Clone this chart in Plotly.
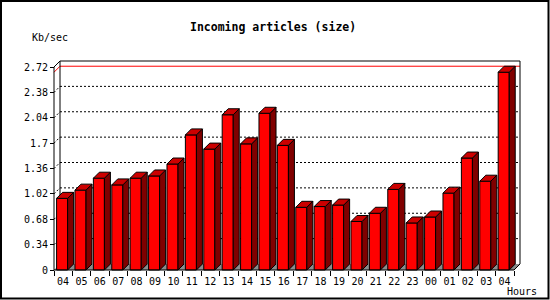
import plotly.graph_objects as go

# ---------------- data ----------------
hours = ["04", "05", "06", "07", "08", "09", "10", "11", "12", "13", "14", "15", "16",
         "17", "18", "19", "20", "21", "22", "23", "00", "01", "02", "03", "04"]
kb_per_sec = [0.96, 1.07, 1.23, 1.14, 1.23, 1.26, 1.42, 1.81, 1.62, 2.08, 1.69, 2.10, 1.67,
              0.84, 0.85, 0.87, 0.65, 0.76, 1.08, 0.63, 0.71, 1.03, 1.50, 1.19, 2.65]
y_ticks = [0, 0.34, 0.68, 1.02, 1.36, 1.70, 2.04, 2.38, 2.72]
y_tick_text = ["0", "0.34", "0.68", "1.02", "1.36", "1.7", "2.04", "2.38", "2.72"]
title_text = "Incoming articles (size)"
y_unit = "Kb/sec"
x_unit = "Hours"

# ---------------- geometry ----------------
W, H = 550, 300
ml, mr, mt, mb = 52, 28, 59, 28
pw, ph = W - ml - mr, H - mt - mb
n = len(hours)
ymax = y_ticks[-1]
sx = (pw - 10) / n            # px per category
sy = (ph - 10) / ymax         # px per unit
dx = 6 / sx                   # depth in data units
dy = 6 / sy
xr = [-0.5 - 2 / sx, n - 0.5 + 8 / sx]
yr = [-2 / sy, ymax + 8 / sy]

def px_x(p):
    return (p - ml) / pw

def px_y(p):
    return (H - mb - p) / ph

RED, TOP, SIDE, FLOOR = "#ff0000", "#cc0000", "#800000", "#8c8c8c"

fig = go.Figure()

# front faces
fig.add_trace(go.Bar(
    x=list(range(n)), y=kb_per_sec, width=0.6, offset=-0.36,
    marker=dict(color=RED, line=dict(color="black", width=1)),
    hoverinfo="skip", showlegend=False))

# side & top faces
sx_list, sy_list, tx_list, ty_list = [], [], [], []
for i, v in enumerate(kb_per_sec):
    x0, x1 = i - 0.36, i + 0.24
    sx_list += [x1, x1 + dx, x1 + dx, x1, x1, None]
    sy_list += [0, dy, v + dy, v, 0, None]
    tx_list += [x0, x1, x1 + dx, x0 + dx, x0, None]
    ty_list += [v, v, v + dy, v + dy, v, None]
fig.add_trace(go.Scatter(x=sx_list, y=sy_list, mode="lines", fill="toself",
                         fillcolor=SIDE, line=dict(color="black", width=1),
                         hoverinfo="skip", showlegend=False))
fig.add_trace(go.Scatter(x=tx_list, y=ty_list, mode="lines", fill="toself",
                         fillcolor=TOP, line=dict(color="black", width=1),
                         hoverinfo="skip", showlegend=False))

shapes = []
L, R = -0.5, n - 0.5
# floor
shapes.append(dict(type="path", xref="x", yref="y", layer="below",
                   path=f"M{L},0 L{R},0 L{R+dx},{dy} L{L+dx},{dy} Z",
                   fillcolor=FLOOR, line=dict(width=0)))
# dotted grid on back wall + left wall
for t in y_ticks[1:-1]:
    shapes.append(dict(type="line", xref="x", yref="y", layer="below",
                       x0=L + dx, x1=R + dx, y0=t + dy, y1=t + dy,
                       line=dict(color="black", width=1, dash="2px,2px")))
    shapes.append(dict(type="line", xref="x", yref="y", layer="below",
                       x0=L, x1=L + dx, y0=t, y1=t + dy,
                       line=dict(color="black", width=1, dash="2px,2px")))
# max line
m = max(kb_per_sec)
shapes.append(dict(type="line", xref="x", yref="y", layer="below",
                   x0=L + dx, x1=R + dx, y0=m + dy, y1=m + dy,
                   line=dict(color="red", width=1)))
shapes.append(dict(type="line", xref="x", yref="y", layer="below",
                   x0=L, x1=L + dx, y0=m, y1=m + dy,
                   line=dict(color="red", width=1)))
# back wall frame
frame = [
    (L + dx, dy, L + dx, ymax + dy),
    (L + dx, ymax + dy, R + dx, ymax + dy),
    (R + dx, dy, R + dx, ymax + dy),
    (L, ymax, L + dx, ymax + dy),
    (R, 0, R + dx, dy),
]
for (a, b, c, d) in frame:
    shapes.append(dict(type="line", xref="x", yref="y", layer="below",
                       x0=a, y0=b, x1=c, y1=d, line=dict(color="black", width=1)))
# front axes
for (a, b, c, d) in [(L, 0, R, 0), (L, 0, L, ymax)]:
    shapes.append(dict(type="line", xref="x", yref="y", layer="above",
                       x0=a, y0=b, x1=c, y1=d, line=dict(color="black", width=1)))
# outer border
shapes.append(dict(type="rect", xref="paper", yref="paper",
                   x0=px_x(1), x1=px_x(548.5), y0=px_y(1), y1=px_y(298.5),
                   line=dict(color="black", width=2), fillcolor="rgba(0,0,0,0)"))

mono = "DejaVu Sans Mono"
annotations = [
    dict(text=f"<b>{title_text}</b>", xref="paper", yref="paper",
         x=px_x(273), y=px_y(27.5), xanchor="center", yanchor="middle",
         showarrow=False, font=dict(family=mono, size=11.5, color="black")),
    dict(text=y_unit, xref="paper", yref="paper", x=px_x(30), y=px_y(37),
         xanchor="left", yanchor="middle", showarrow=False,
         font=dict(family=mono, size=10, color="black")),
    dict(text=x_unit, xref="paper", yref="paper", x=px_x(505), y=px_y(291),
         xanchor="left", yanchor="middle", showarrow=False,
         font=dict(family=mono, size=10, color="black")),
]

fig.update_layout(
    width=W, height=H, margin=dict(l=ml, r=mr, t=mt, b=mb, pad=0),
    paper_bgcolor="white", plot_bgcolor="white",
    shapes=shapes, annotations=annotations, showlegend=False,
    xaxis=dict(range=xr, anchor="free", position=2 / ph,
               tickmode="array", tickvals=[i - 0.5 for i in range(n + 1)],
               ticktext=hours + [""], ticklabelshift=int(round(sx / 2)),
               ticklabelstandoff=-3,
               ticks="outside", ticklen=5, tickcolor="black", tickwidth=1,
               showgrid=False, zeroline=False, showline=False,
               tickfont=dict(family=mono, size=10, color="black"), fixedrange=True),
    yaxis=dict(range=yr, anchor="free", position=2 / pw,
               tickmode="array", tickvals=y_ticks, ticktext=y_tick_text,
               ticks="outside", ticklen=4, tickcolor="black", tickwidth=1,
               showgrid=False, zeroline=False, showline=False,
               tickfont=dict(family=mono, size=10, color="black"), fixedrange=True),
)

fig.write_html("out.html")
